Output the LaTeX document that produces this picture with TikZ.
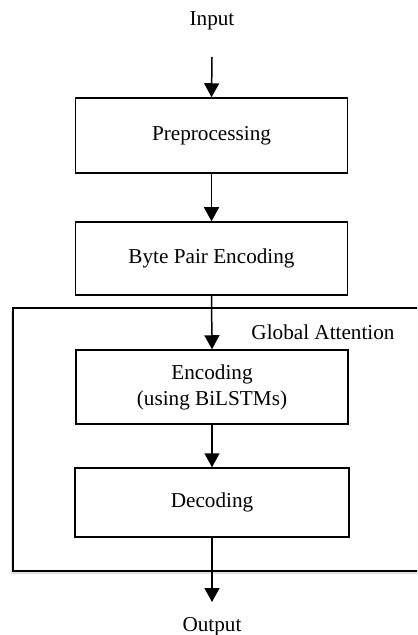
\documentclass[tikz,border=0pt]{standalone}
\usepackage{fontspec}
\setmainfont{Liberation Serif}
\usetikzlibrary{positioning, arrows.meta, shadows}

\begin{document}
\begin{tikzpicture}[
  x=0.5pt, y=-0.5pt,
  box/.style={draw, line width=0.75pt, minimum width=136pt, minimum height=37pt, align=center, font=\fontsize{10.6}{13}\selectfont, inner sep=0pt},
  label/.style={font=\fontsize{10.6}{13}\selectfont, inner sep=0pt},
  arrow/.style={-{Triangle[length=7pt, width=7.5pt]}, line width=0.75pt}
]
  \useasboundingbox (0,0) rectangle (417,635);

  % Global attention frame (runs off the right edge)
  \begin{scope}
    \clip (0,0) rectangle (417,635);
    \draw[line width=0.75pt, fill=white, general shadow={fill=black, opacity=0.12, shadow xshift=-1pt, shadow yshift=-1.5pt}] (13,308) rectangle (422,571);
  \end{scope}
  \node[label] (att) at (323, 332) {Global Attention};

  % Input
  \node[label] (input) at (212, 21) {Input};
  \coordinate (inTail) at (212, 57);

  % Pipeline boxes
  \node[box, minimum height=37.5pt] (pre) at (211.5, 135.5) {Preprocessing};
  \node[box, minimum height=36.5pt] (bpe) at (211.5, 258.5) {Byte Pair Encoding};
  \node[box, minimum height=37pt] (enc) at (212, 387) {Encoding\\(using BiLSTMs)};
  \node[box, minimum height=34.5pt, minimum width=137pt] (dec) at (212, 502.5) {Decoding};

  % Output
  \coordinate (outTip) at (212, 602);
  \node[label] (output) at (212, 627) {Output};

  % Flow arrows
  \draw[arrow] (inTail) -- (pre.north);
  \draw[arrow] (pre.south) -- (bpe.north);
  \draw[arrow] (bpe.south) -- (enc.north);
  \draw[arrow] (enc.south) -- (dec.north);
  \draw[arrow] (dec.south) -- (outTip);
\end{tikzpicture}
\end{document}
